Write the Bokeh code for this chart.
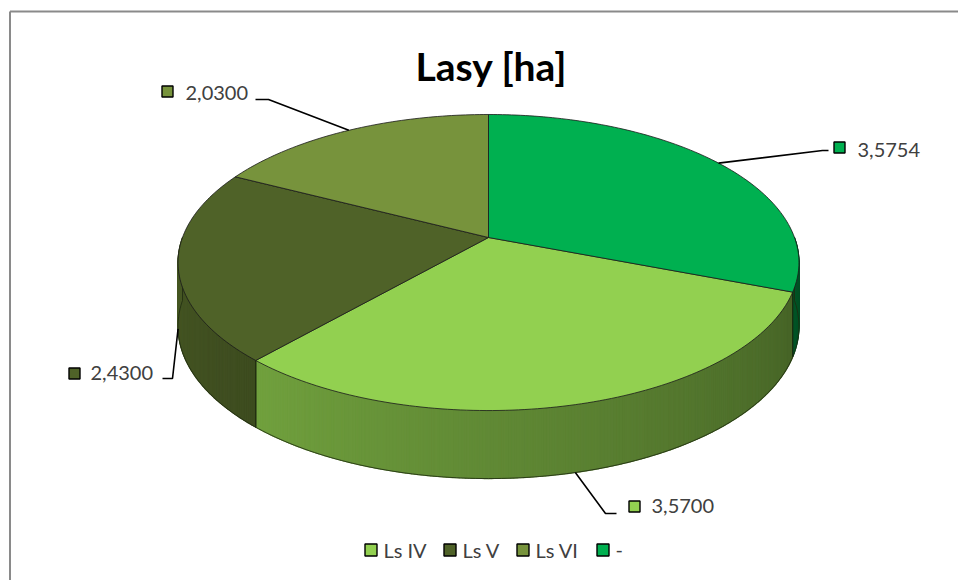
import numpy as np
from bokeh.plotting import figure
from bokeh.models import Range1d
from bokeh.embed import file_html
from bokeh.resources import INLINE
from bokeh.core.properties import value

# ---------------- data ----------------
title_text = "Lasy [ha]"
categories = ["Ls IV", "Ls V", "Ls VI", "-"]
values = [3.5700, 2.4300, 2.0300, 3.5754]
value_labels = ["3,5700", "2,4300", "2,0300", "3,5754"]
colors = ["#92D050", "#4F6228", "#77933C", "#00B050"]

# ---------------- layout (pixels, page coordinates) ----------------
CX, CY = 488.0, 237.0      # apex of the pie (top face)
KX, KY = 306.0, 143.8      # projected radii
S = 0.169                  # perspective factor
D0, D1 = 63.0, 5.0         # side depth (sides / extra at front)
FONT = value("Lato")
TXT = "#404040"
TY = -8                    # text baseline correction

W, H = 958, 580
p = figure(width=W, height=H, output_backend="svg", toolbar_location=None,
           x_range=Range1d(0, W), y_range=Range1d(H, 0),
           x_axis_type=None, y_axis_type=None, min_border=0)
p.grid.visible = False
p.outline_line_color = None
p.background_fill_color = "white"
p.border_fill_color = "white"


def proj(theta_deg, z=0.0):
    t = np.radians(theta_deg)
    c, s = np.cos(t), np.sin(t)
    w = 1.0 + S * s
    depth = D0 + D1 * np.clip(-s, 0, 1)
    return CX + KX * c / w, CY - KY * s / w + z * depth


def shade(hexcol, f):
    r, g, b = int(hexcol[1:3], 16), int(hexcol[3:5], 16), int(hexcol[5:7], 16)
    return "#%02x%02x%02x" % tuple(max(0, min(255, int(round(v * f)))) for v in (r, g, b))


def side_factor(theta):
    return 0.42 + 0.48 * (-theta / 180.0)


total = float(sum(values))
fr = [v / total for v in values]
start0 = 90.0 - 360.0 * fr[-1]
starts, ends = [], []
a = start0
for f in fr:
    starts.append(a)
    ends.append(a - 360.0 * f)
    a -= 360.0 * f

# ---------------- sides ----------------
side_xs, side_ys, side_cols = [], [], []
edge_xs, edge_ys = [], []
for i in range(len(values)):
    hi, lo = starts[i], ends[i]
    for shift in (-360.0, 0.0, 360.0):
        h2, l2 = min(hi + shift, 0.0), max(lo + shift, -180.0)
        if h2 - l2 <= 0:
            continue
        n = max(2, int((h2 - l2) / 0.5))
        th = np.linspace(h2, l2, n + 1)
        for k in range(n):
            t1, t2 = th[k], th[k + 1]
            x1, y1 = proj(t1)
            x2, y2 = proj(t2)
            x3, y3 = proj(t2, 1)
            x4, y4 = proj(t1, 1)
            side_xs.append([x1, x2, x3, x4])
            side_ys.append([y1, y2, y3, y4])
            side_cols.append(shade(colors[i], side_factor(0.5 * (t1 + t2))))
        for t in (hi + shift, lo + shift):
            if -180.0 < t < 0.0:
                xa, ya = proj(t)
                xb, yb = proj(t, 1)
                edge_xs.append([xa, xb])
                edge_ys.append([ya, yb])

p.patches(side_xs, side_ys, fill_color=side_cols, line_color=side_cols, line_width=1.2)

tb = np.linspace(-180.0, 0.0, 181)
bx, by = proj(tb, 1)
p.line(bx, by, line_color="#1e2a10", line_width=1.0, line_alpha=0.8)
lx0, ly0 = proj(-180.0)
lx1, ly1 = proj(-180.0, 1)
rx0, ry0 = proj(0.0)
rx1, ry1 = proj(0.0, 1)
p.multi_line(edge_xs + [[lx0, lx1], [rx0, rx1]], edge_ys + [[ly0, ly1], [ry0, ry1]],
             line_color="#1e2a10", line_width=1.0, line_alpha=0.8)

# ---------------- top face ----------------
top_xs, top_ys = [], []
for i in range(len(values)):
    th = np.linspace(starts[i], ends[i], max(3, int(abs(starts[i] - ends[i]))) + 1)
    ax, ay = proj(th)
    top_xs.append([CX] + list(ax))
    top_ys.append([CY] + list(ay))
p.patches(top_xs, top_ys, fill_color=colors, line_color="#1a1a1a", line_width=1.0, line_alpha=0.8)

# ---------------- leader lines & data labels ----------------
mids = [0.5 * (s_ + e_) for s_, e_ in zip(starts, ends)]
anchor_z = [1.0, 1.0, 0.0, 0.0]
elbows = [[(605, 513), (616, 513)], [(172, 378), (162, 378)],
          [(268, 99), (255, 99)], [(822, 150), (828, 150)]]
label_sq = [(634, 506), (74, 373), (167, 91), (839, 147)]
label_tx = [(651, 513 + TY), (90, 380 + TY), (185, 100 + TY), (857, 157 + TY)]

lxs, lys = [], []
for i in range(len(values)):
    ax_, ay_ = proj(mids[i], anchor_z[i])
    lxs.append([ax_] + [e[0] for e in elbows[i]])
    lys.append([ay_] + [e[1] for e in elbows[i]])
p.multi_line(lxs, lys, line_color="black", line_width=1.6)

p.rect([q[0] for q in label_sq], [q[1] for q in label_sq], width=11, height=11,
       width_units="screen", height_units="screen",
       fill_color=colors, line_color="black", line_width=1.4)
p.text([q[0] for q in label_tx], [q[1] for q in label_tx], text=value_labels,
       text_font=FONT, text_font_size="20px", text_color=TXT,
       text_align="left", text_baseline="alphabetic")

# ---------------- title ----------------
p.text([491], [73 + TY], text=[title_text], text_font=FONT, text_font_size="39px",
       text_font_style="bold", text_color="black", text_align="center",
       text_baseline="alphabetic")

# ---------------- legend ----------------
leg_sq_x = [370.5, 449.5, 522.5, 602.5]
leg_tx_x = [383, 462, 535, 615]
p.rect(leg_sq_x, [549.5] * 4, width=12, height=12, width_units="screen", height_units="screen",
       fill_color=colors, line_color="black", line_width=1.4)
p.text(leg_tx_x, [557 + TY] * 4, text=categories, text_font=FONT, text_font_size="20px",
       text_color=TXT, text_align="left", text_baseline="alphabetic")

# ---------------- chart border (top & left visible) ----------------
p.line([9.5, 9.5], [H + 20, 11], line_color="#8a8a8a", line_width=2)
p.line([9.5, W + 20], [11, 11], line_color="#8a8a8a", line_width=2)

open("out.html", "w").write(file_html(p, INLINE))
